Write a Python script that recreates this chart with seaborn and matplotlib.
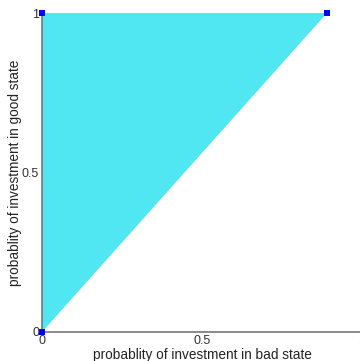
import matplotlib
matplotlib.use("Agg")
import matplotlib.pyplot as plt
import seaborn as sns
import pandas as pd

# corner points of the feasible region
x_bad = [0, 0, 0.89]
y_good = [0, 1, 1]
ticks = [0, 0.5, 1]
tick_labels = ["0", "0.5", "1"]

sns.set_style("white")
plt.rcParams["font.family"] = ["Liberation Sans", "DejaVu Sans"]

fig = plt.figure(figsize=(3.6, 3.61), dpi=100)
ax = fig.add_axes([42 / 360, 29 / 361, 320 / 360, 319 / 361])

ax.fill(x_bad, y_good, color="#50E6F2", lw=0)
df = pd.DataFrame({"x": x_bad, "y": y_good})
sns.scatterplot(data=df, x="x", y="y", marker="s", color="#0000FF",
                s=16, edgecolor="none", ax=ax, clip_on=False, zorder=5)

ax.set_xlim(0, 1)
ax.set_ylim(0, 1)
ax.set_xticks(ticks)
ax.set_xticklabels(tick_labels)
ax.set_yticks(ticks)
ax.set_yticklabels(tick_labels)
ax.tick_params(direction="in", length=3, width=0.8, color="#555555",
               labelsize=9, labelcolor="#333333", pad=2)
ax.set_xlabel("probablity of investment in bad state", fontsize=9.8,
              color="#222222", labelpad=1)
ax.set_ylabel("probablity of investment in good state", fontsize=9.8,
              color="#222222", labelpad=0)

for side in ["top", "right"]:
    ax.spines[side].set_visible(False)
for side in ["left", "bottom"]:
    ax.spines[side].set_color("#777777")
    ax.spines[side].set_linewidth(1.2)

fig.savefig("out.png", dpi=100)
